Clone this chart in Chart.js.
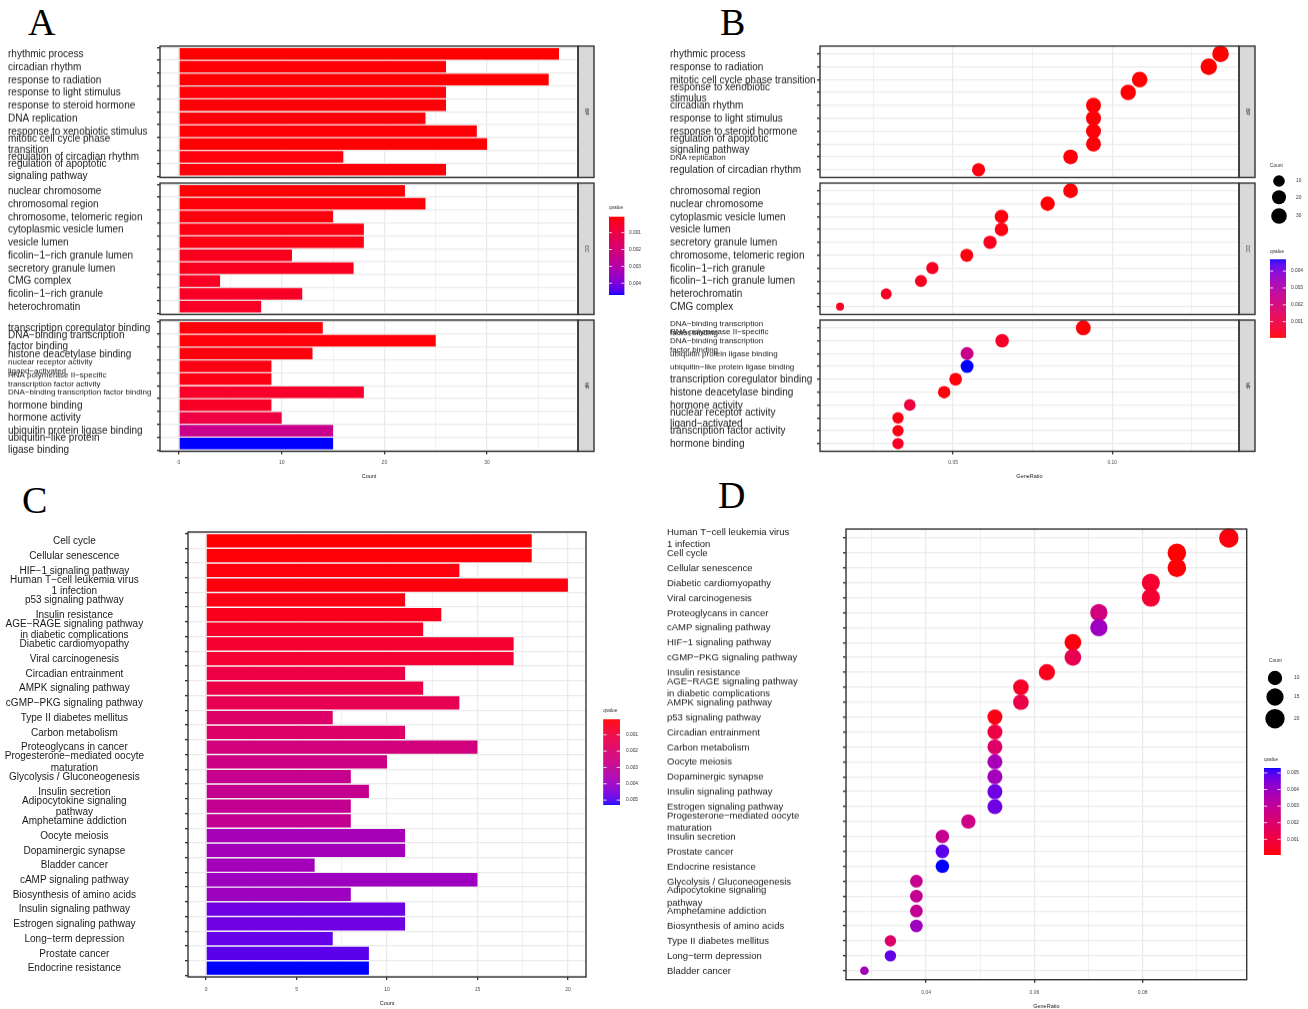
<!DOCTYPE html>
<html>
<head>
<meta charset="utf-8">
<title>GO / KEGG enrichment</title>
<script src="https://cdn.jsdelivr.net/npm/chart.js@4.4.1/dist/chart.umd.min.js"></script>
<style>
  html, body { margin: 0; padding: 0; background: #fff; }
  body { position: relative; width: 1308px; height: 1009px; overflow: hidden; }
  .box { position: absolute; }
  .box canvas { display: block; }
  .letter { position: absolute; font-family: 'Liberation Serif', 'Times New Roman', serif; font-size: 38px; line-height: 1; color: #000; }
  #legends { position: absolute; left: 0; top: 0; pointer-events: none; }
</style>
</head>
<body>
<div class="letter" style="left:28px;top:3px">A</div>
<div class="letter" style="left:720px;top:3px">B</div>
<div class="letter" style="left:22px;top:481px">C</div>
<div class="letter" style="left:718px;top:476px">D</div>
<canvas id="legends" width="1308" height="1009"></canvas>
<script>
// ---- panel A : GO terms, bar chart (Count) ----
const aBpTerms = ['rhythmic process', 'circadian rhythm', 'response to radiation', 'response to light stimulus',
  'response to steroid hormone', 'DNA replication', 'response to xenobiotic stimulus',
  ['mitotic cell cycle phase', 'transition'], 'regulation of circadian rhythm',
  ['regulation of apoptotic', 'signaling pathway']];
const aBpCount = [37, 26, 36, 26, 26, 24, 29, 30, 16, 26];
const aBpQvalue = [0.00005, 0.00008, 0.00006, 0.0001, 0.0001, 0.00012, 0.00008, 0.00007, 0.00015, 0.00012];

const aCcTerms = ['nuclear chromosome', 'chromosomal region', 'chromosome, telomeric region', 'cytoplasmic vesicle lumen',
  'vesicle lumen', 'ficolin−1−rich granule lumen', 'secretory granule lumen', 'CMG complex',
  'ficolin−1−rich granule', 'heterochromatin'];
const aCcCount = [22, 24, 15, 18, 18, 11, 17, 4, 12, 8];
const aCcQvalue = [0.00008, 0.0001, 0.00015, 0.00018, 0.00018, 0.00035, 0.00035, 0.0004, 0.00045, 0.00045];

const aMfTerms = ['transcription coregulator binding', ['DNA−binding transcription', 'factor binding'],
  'histone deacetylase binding', ['nuclear receptor activity', 'ligand−activated'],
  ['RNA polymerase II−specific', 'transcription factor activity'], 'DNA−binding transcription factor binding',
  'hormone binding', 'hormone activity', 'ubiquitin protein ligase binding', ['ubiquitin−like protein', 'ligase binding']];
const aMfCount = [14, 25, 13, 9, 9, 18, 9, 10, 15, 15];
const aMfQvalue = [0.00012, 0.0001, 0.00015, 0.0002, 0.0002, 0.0005, 0.00045, 0.0009, 0.0024, 0.0047];

// ---- panel B : GO terms, dot plot (GeneRatio) ----
const bBpTerms = ['rhythmic process', 'response to radiation', 'mitotic cell cycle phase transition',
  ['response to xenobiotic', 'stimulus'], 'circadian rhythm', 'response to light stimulus',
  'response to steroid hormone', ['regulation of apoptotic', 'signaling pathway'], 'DNA replication',
  'regulation of circadian rhythm'];
const bBpRatio = [0.134, 0.1303, 0.1086, 0.105, 0.0941, 0.0941, 0.0941, 0.0941, 0.0869, 0.058];
const bBpCount = [37, 36, 30, 29, 26, 26, 26, 26, 24, 16];
const bBpQvalue = [0.00005, 0.00006, 0.00007, 0.00008, 0.00008, 0.0001, 0.0001, 0.00012, 0.00012, 0.00015];

const bCcTerms = ['chromosomal region', 'nuclear chromosome', 'cytoplasmic vesicle lumen', 'vesicle lumen',
  'secretory granule lumen', 'chromosome, telomeric region', 'ficolin−1−rich granule',
  'ficolin−1−rich granule lumen', 'heterochromatin', 'CMG complex'];
const bCcRatio = [0.0869, 0.0797, 0.0652, 0.0652, 0.0616, 0.0543, 0.0435, 0.0399, 0.029, 0.0145];
const bCcCount = [24, 22, 18, 18, 17, 15, 12, 11, 8, 4];
const bCcQvalue = [0.0001, 0.00008, 0.00018, 0.00018, 0.00035, 0.00015, 0.00045, 0.00035, 0.00045, 0.0004];

const bMfTerms = [['DNA−binding transcription', 'factor binding'],
  ['RNA polymerase II−specific', 'DNA−binding transcription', 'factor binding'],
  'ubiquitin protein ligase binding', 'ubiquitin−like protein ligase binding',
  'transcription coregulator binding', 'histone deacetylase binding', 'hormone activity',
  ['nuclear receptor activity', 'ligand−activated'], 'transcription factor activity', 'hormone binding'];
const bMfRatio = [0.0909, 0.0654, 0.0544, 0.0544, 0.0508, 0.0472, 0.0364, 0.0327, 0.0327, 0.0327];
const bMfCount = [25, 18, 15, 15, 14, 13, 10, 9, 9, 9];
const bMfQvalue = [0.0001, 0.0005, 0.0024, 0.0047, 0.00012, 0.00015, 0.0009, 0.0002, 0.0002, 0.00045];

// ---- panel C : KEGG pathways, bar chart ----
const cTerms = ['Cell cycle', 'Cellular senescence', 'HIF−1 signaling pathway', ['Human T−cell leukemia virus', '1 infection'],
  'p53 signaling pathway', 'Insulin resistance', ['AGE−RAGE signaling pathway', 'in diabetic complications'],
  'Diabetic cardiomyopathy', 'Viral carcinogenesis', 'Circadian entrainment', 'AMPK signaling pathway',
  'cGMP−PKG signaling pathway', 'Type II diabetes mellitus', 'Carbon metabolism', 'Proteoglycans in cancer',
  ['Progesterone−mediated oocyte', 'maturation'], 'Glycolysis / Gluconeogenesis', 'Insulin secretion',
  ['Adipocytokine signaling', 'pathway'], 'Amphetamine addiction', 'Oocyte meiosis', 'Dopaminergic synapse',
  'Bladder cancer', 'cAMP signaling pathway', 'Biosynthesis of amino acids', 'Insulin signaling pathway',
  'Estrogen signaling pathway', 'Long−term depression', 'Prostate cancer', 'Endocrine resistance'];
const cCount = [18, 18, 14, 20, 11, 13, 12, 17, 17, 11, 12, 14, 7, 11, 15, 10, 8, 9, 8, 8, 11, 11, 6, 15, 8, 11, 11, 7, 9, 9];
const cQvalue = [0.00005, 0.0001, 0.00016, 0.00016, 0.00026, 0.00036, 0.00058, 0.00068, 0.00073, 0.0011,
  0.0012, 0.0014, 0.0019, 0.0019, 0.0024, 0.0026, 0.0028, 0.0028, 0.0029, 0.0029,
  0.0037, 0.0038, 0.0038, 0.0039, 0.0039, 0.0047, 0.0047, 0.0048, 0.0049, 0.0053];

// ---- panel D : KEGG pathways, dot plot ----
const dTerms = [['Human T−cell leukemia virus', '1 infection'], 'Cell cycle', 'Cellular senescence',
  'Diabetic cardiomyopathy', 'Viral carcinogenesis', 'Proteoglycans in cancer', 'cAMP signaling pathway',
  'HIF−1 signaling pathway', 'cGMP−PKG signaling pathway', 'Insulin resistance',
  ['AGE−RAGE signaling pathway', 'in diabetic complications'], 'AMPK signaling pathway', 'p53 signaling pathway',
  'Circadian entrainment', 'Carbon metabolism', 'Oocyte meiosis', 'Dopaminergic synapse', 'Insulin signaling pathway',
  'Estrogen signaling pathway', ['Progesterone−mediated oocyte', 'maturation'], 'Insulin secretion', 'Prostate cancer',
  'Endocrine resistance', 'Glycolysis / Gluconeogenesis', ['Adipocytokine signaling', 'pathway'],
  'Amphetamine addiction', 'Biosynthesis of amino acids', 'Type II diabetes mellitus', 'Long−term depression',
  'Bladder cancer'];
const dRatio = [0.0959, 0.0863, 0.0863, 0.0815, 0.0815, 0.0719, 0.0719, 0.0671, 0.0671, 0.0623,
  0.0575, 0.0575, 0.0527, 0.0527, 0.0527, 0.0527, 0.0527, 0.0527, 0.0527, 0.0478,
  0.043, 0.043, 0.043, 0.0382, 0.0382, 0.0382, 0.0382, 0.0334, 0.0334, 0.0286];
const dCount = [20, 18, 18, 17, 17, 15, 15, 14, 14, 13, 12, 12, 11, 11, 11, 11, 11, 11, 11, 10, 9, 9, 9, 8, 8, 8, 8, 7, 7, 6];
const dQvalue = [0.00016, 0.00005, 0.0001, 0.00068, 0.00073, 0.0024, 0.0039, 0.00016, 0.0014, 0.00036,
  0.00058, 0.0012, 0.00026, 0.0011, 0.0019, 0.0037, 0.0038, 0.0047, 0.0047, 0.0026,
  0.0028, 0.0049, 0.0053, 0.0028, 0.0029, 0.0029, 0.0039, 0.0019, 0.0048, 0.0038];

// legend breaks
const abQBreaks = [0.001, 0.002, 0.003, 0.004];
const cdQBreaks = [0.001, 0.002, 0.003, 0.004, 0.005];
const bSizeBreaks = [10, 20, 30];
const dSizeBreaks = [10, 15, 20];

const FONT = "'Liberation Sans', Arial, Helvetica, sans-serif";
Chart.defaults.font.family = FONT;
Chart.defaults.color = '#1a1a1a';
Chart.defaults.animation = false;
Chart.defaults.events = [];
Chart.defaults.plugins.legend.display = false;
Chart.defaults.plugins.tooltip.enabled = false;

// red -> blue gradient interpolated in Lab, like ggplot's scale_*_gradient
function toLab(rgb) {
  const lin = rgb.map(v => { v /= 255; return v <= 0.04045 ? v / 12.92 : Math.pow((v + 0.055) / 1.055, 2.4); });
  const X = (0.4124564 * lin[0] + 0.3575761 * lin[1] + 0.1804375 * lin[2]) / 0.95047;
  const Y = 0.2126729 * lin[0] + 0.7151522 * lin[1] + 0.072175 * lin[2];
  const Z = (0.0193339 * lin[0] + 0.119192 * lin[1] + 0.9503041 * lin[2]) / 1.08883;
  const f = t => t > 216 / 24389 ? Math.cbrt(t) : (24389 / 27 * t + 16) / 116;
  const fx = f(X), fy = f(Y), fz = f(Z);
  return [116 * fy - 16, 500 * (fx - fy), 200 * (fy - fz)];
}
function fromLab(lab) {
  const fy = (lab[0] + 16) / 116, fx = fy + lab[1] / 500, fz = fy - lab[2] / 200;
  const inv = t => t * t * t > 216 / 24389 ? t * t * t : (116 * t - 16) / (24389 / 27);
  const X = inv(fx) * 0.95047, Y = inv(fy), Z = inv(fz) * 1.08883;
  const r = 3.2404542 * X - 1.5371385 * Y - 0.4985314 * Z;
  const g = -0.969266 * X + 1.8760108 * Y + 0.041556 * Z;
  const b = 0.0556434 * X - 0.2040259 * Y + 1.0572252 * Z;
  const gam = v => { v = Math.max(0, Math.min(1, v)); v = v <= 0.0031308 ? 12.92 * v : 1.055 * Math.pow(v, 1 / 2.4) - 0.055; return Math.round(v * 255); };
  return 'rgb(' + gam(r) + ',' + gam(g) + ',' + gam(b) + ')';
}
const LOW = toLab([255, 0, 0]), HIGH = toLab([0, 0, 255]);
function qColor(q, lo, hi) {
  const t = Math.max(0, Math.min(1, (q - lo) / (hi - lo)));
  return fromLab(LOW.map((v, i) => v + (HIGH[i] - v) * t));
}
function sizeScale(counts, rMin, rMax) {
  const lo = Math.min(...counts), hi = Math.max(...counts);
  return c => rMin + (rMax - rMin) * Math.sqrt(Math.max(0, (c - lo) / (hi - lo)));
}

const abAll = aBpQvalue.concat(aCcQvalue, aMfQvalue);
const abLo = Math.min(...abAll), abHi = Math.max(...abAll);
const cdLo = Math.min(...cQvalue), cdHi = Math.max(...cQvalue);
const bRadius = sizeScale(bBpCount.concat(bCcCount, bMfCount), 4, 8.3);
const dRadius = sizeScale(dCount, 4.3, 9.7);

// panel border + grey facet strip
const facetFrame = {
  id: 'facetFrame',
  afterDraw(chart, args, opts) {
    const { ctx, chartArea: a } = chart;
    ctx.save();
    ctx.strokeStyle = '#333';
    ctx.lineWidth = 1.4;
    if (opts.strip) {
      ctx.fillStyle = '#d9d9d9';
      ctx.fillRect(a.right, a.top, 16, a.bottom - a.top);
      ctx.strokeRect(a.right, a.top, 16, a.bottom - a.top);
      ctx.save();
      ctx.translate(a.right + 8, (a.top + a.bottom) / 2);
      ctx.rotate(Math.PI / 2);
      ctx.fillStyle = '#1a1a1a';
      ctx.font = '5px ' + FONT;
      ctx.textAlign = 'center';
      ctx.textBaseline = 'middle';
      ctx.fillText(opts.strip, 0, 0);
      ctx.restore();
    }
    ctx.strokeRect(a.left, a.top, a.right - a.left, a.bottom - a.top);
    ctx.restore();
  }
};

function place(left, top, width, height) {
  const box = document.createElement('div');
  box.className = 'box';
  box.style.cssText = 'left:' + left + 'px;top:' + top + 'px;width:' + width + 'px;height:' + height + 'px';
  const canvas = document.createElement('canvas');
  box.appendChild(canvas);
  document.body.insertBefore(box, document.getElementById('legends'));
  return canvas;
}

function xAxis(s, bottom) {
  const isMajor = v => Math.abs(v / s.major - Math.round(v / s.major)) < 1e-6;
  return {
    type: 'linear', min: s.min, max: s.max,
    border: { display: false },
    grid: {
      color: '#ebebeb',
      lineWidth: c => (c.tick && isMajor(c.tick.value)) ? 1.3 : 0.7,
      drawTicks: bottom, tickLength: 3, tickWidth: 1.3,
      tickColor: c => (c.tick && isMajor(c.tick.value)) ? '#333' : 'rgba(0,0,0,0)'
    },
    ticks: {
      display: bottom, stepSize: s.step, includeBounds: false, autoSkip: false, maxRotation: 0,
      padding: s.tickPad, color: '#4d4d4d', font: { size: 5 },
      callback: v => isMajor(v) ? s.fmt(v) : ''
    },
    title: { display: bottom, text: s.title, color: '#1a1a1a', font: { size: 5.5 }, padding: { top: 0, bottom: s.titlePad } },
    afterFit: sc => { sc.height = bottom ? s.height : 0; sc.paddingLeft = 0; sc.paddingRight = 0; }
  };
}

// discrete axis laid out like ggplot: rows 0..n-1 with 0.6 of a row added at each end
function yAxis(s, labels) {
  const small = s.small || [];
  return {
    type: 'linear', reverse: true, min: -0.6, max: labels.length - 0.4, offset: false,
    border: { display: false },
    grid: { color: '#ebebeb', lineWidth: 1.3, tickLength: 3, tickWidth: 1.4, tickColor: '#333' },
    ticks: {
      stepSize: 1, includeBounds: false, autoSkip: false, crossAlign: s.align, padding: s.pad || 3,
      color: '#1a1a1a', labelOffset: 0.5,
      callback: v => (labels[v] !== undefined ? labels[v] : ''),
      font: c => ({ size: (c.tick && small.includes(c.tick.value)) ? 8 : s.size, lineHeight: s.lh })
    },
    afterFit: sc => { sc.width = s.width; sc.paddingTop = 0; sc.paddingBottom = 0; }
  };
}

function facet(canvas, type, labels, values, colors, radii, o) {
  const points = values.map((v, i) => ({ x: v, y: i }));
  const ds = type === 'bar'
    ? { data: points, backgroundColor: colors, barPercentage: 0.9, categoryPercentage: 1, borderWidth: 0 }
    : { data: points, showLine: false, pointRadius: radii, pointBackgroundColor: colors, pointBorderWidth: 0, clip: false };
  return new Chart(canvas, {
    type: type,
    data: { datasets: [ds] },
    options: {
      indexAxis: 'y', responsive: true, maintainAspectRatio: false,
      layout: { padding: o.padding },
      scales: { x: xAxis(o.x, o.bottom), y: yAxis(o.y, labels) },
      plugins: { facetFrame: { strip: o.strip } }
    },
    plugins: [facetFrame]
  });
}

// ---------- A and B : three facets each ----------
const facetTops = [46, 183.3, 320];
const FH = 130.5;
const aX = { min: -1.85, max: 38.85, step: 5, major: 10, fmt: v => String(v), title: 'Count', height: 32, tickPad: 5.5, titlePad: 4.2 };
const bX = { min: 0.0082, max: 0.1398, step: 0.025, major: 0.05, fmt: v => v.toFixed(2), title: 'GeneRatio', height: 32, tickPad: 5.5, titlePad: 4.2 };

const aFacets = [
  { strip: 'BP', terms: aBpTerms, count: aBpCount, q: aBpQvalue },
  { strip: 'CC', terms: aCcTerms, count: aCcCount, q: aCcQvalue },
  { strip: 'MF', terms: aMfTerms, count: aMfCount, q: aMfQvalue, small: [3, 4, 5] }
];
const bFacets = [
  { strip: 'BP', terms: bBpTerms, ratio: bBpRatio, count: bBpCount, q: bBpQvalue, small: [8] },
  { strip: 'CC', terms: bCcTerms, ratio: bCcRatio, count: bCcCount, q: bCcQvalue },
  { strip: 'MF', terms: bMfTerms, ratio: bMfRatio, count: bMfCount, q: bMfQvalue, small: [0, 1, 2, 3] }
];

aFacets.forEach((f, i) => {
  const bottom = i === 2;
  const h = 10 + FH + (bottom ? aX.height : 10);
  const cv = place(0, facetTops[i] - 10, 600, h);
  facet(cv, 'bar', f.terms, f.count, f.q.map(q => qColor(q, abLo, abHi)), null, {
    strip: f.strip, bottom: bottom, x: aX,
    y: { width: 152, align: 'far', size: 10, lh: 1.15, small: f.small },
    padding: { left: 8, right: 22, top: 10, bottom: bottom ? 0 : 10 }
  });
});

bFacets.forEach((f, i) => {
  const bottom = i === 2;
  const h = 10 + FH + (bottom ? bX.height : 10);
  const cv = place(662, facetTops[i] - 10, 598, h);
  facet(cv, 'line', f.terms, f.ratio, f.q.map(q => qColor(q, abLo, abHi)), f.count.map(bRadius), {
    strip: f.strip, bottom: bottom, x: bX,
    y: { width: 150, align: 'far', size: 10, lh: 1.15, small: f.small },
    padding: { left: 8, right: 21, top: 10, bottom: bottom ? 0 : 10 }
  });
});

// ---------- C ----------
const cX = { min: -1, max: 21, step: 2.5, major: 5, fmt: v => String(v), title: 'Count', height: 32, tickPad: 6.6, titlePad: 2.4 };
facet(place(0, 521.7, 600, 10 + 445 + 32), 'bar', cTerms, cCount, cQvalue.map(q => qColor(q, cdLo, cdHi)), null, {
  bottom: true, x: cX,
  y: { width: 188, align: 'center', pad: 41, size: 10, lh: 1.15 },
  padding: { left: 0, right: 14, top: 10, bottom: 0 }
});

// ---------- D ----------
const dX = { min: 0.0252, max: 0.0992, step: 0.01, major: 0.02, fmt: v => v.toFixed(2), title: 'GeneRatio', height: 30, tickPad: 6.7, titlePad: 0 };
facet(place(659, 519.3, 601, 10 + 449.7 + 30), 'line', dTerms, dRatio, dQvalue.map(q => qColor(q, cdLo, cdHi)), dCount.map(dRadius), {
  bottom: true, x: dX,
  y: { width: 179, align: 'far', size: 9.5, lh: 1.3 },
  padding: { left: 8, right: 13.3, top: 10, bottom: 0 }
});

// ---------- legends ----------
const lg = document.getElementById('legends').getContext('2d');
function legendText(txt, x, y) {
  lg.fillStyle = '#333';
  lg.font = '4.8px ' + FONT;
  lg.textAlign = 'left';
  lg.textBaseline = 'middle';
  lg.fillText(txt, x, y);
}
function colorbar(o) {
  const rows = Math.ceil(o.h);
  for (let i = 0; i < rows; i++) {
    const t = (i + 0.5) / o.h;
    const q = o.highOnTop ? o.hi - t * (o.hi - o.lo) : o.lo + t * (o.hi - o.lo);
    lg.fillStyle = qColor(q, o.lo, o.hi);
    lg.fillRect(o.x, o.y + i, o.w, Math.min(1.5, o.h - i));
  }
  legendText('qvalue', o.x, o.titleY);
  o.breaks.forEach(b => {
    const f = (b - o.lo) / (o.hi - o.lo);
    const py = o.highOnTop ? o.y + (1 - f) * o.h : o.y + f * o.h;
    lg.strokeStyle = '#fff';
    lg.lineWidth = 0.8;
    lg.beginPath();
    lg.moveTo(o.x, py); lg.lineTo(o.x + o.w * 0.2, py);
    lg.moveTo(o.x + o.w * 0.8, py); lg.lineTo(o.x + o.w, py);
    lg.stroke();
    legendText(b.toFixed(3), o.labelX, py);
  });
}
function sizeLegend(o) {
  legendText('Count', o.x, o.titleY);
  o.breaks.forEach((b, i) => {
    lg.fillStyle = '#000';
    lg.beginPath();
    lg.arc(o.cx, o.ys[i], o.radius(b), 0, Math.PI * 2);
    lg.fill();
    legendText(String(b), o.labelX, o.ys[i]);
  });
}

colorbar({ x: 609, y: 216.7, w: 15.3, h: 78.3, lo: abLo, hi: abHi, highOnTop: false, breaks: abQBreaks, titleY: 208, labelX: 629 });
sizeLegend({ x: 1270, titleY: 166, cx: 1279, ys: [181, 197.3, 216], breaks: bSizeBreaks, radius: bRadius, labelX: 1296 });
colorbar({ x: 1270, y: 259.3, w: 16, h: 78.4, lo: abLo, hi: abHi, highOnTop: true, breaks: abQBreaks, titleY: 252, labelX: 1291 });
colorbar({ x: 603.3, y: 719.3, w: 16.7, h: 85.7, lo: cdLo, hi: cdHi, highOnTop: false, breaks: cdQBreaks, titleY: 711, labelX: 626 });
sizeLegend({ x: 1269, titleY: 661, cx: 1275, ys: [678, 697, 718.7], breaks: dSizeBreaks, radius: dRadius, labelX: 1294 });
colorbar({ x: 1264, y: 768, w: 16.7, h: 87, lo: cdLo, hi: cdHi, highOnTop: true, breaks: cdQBreaks, titleY: 760, labelX: 1287 });
</script>
</body>
</html>
